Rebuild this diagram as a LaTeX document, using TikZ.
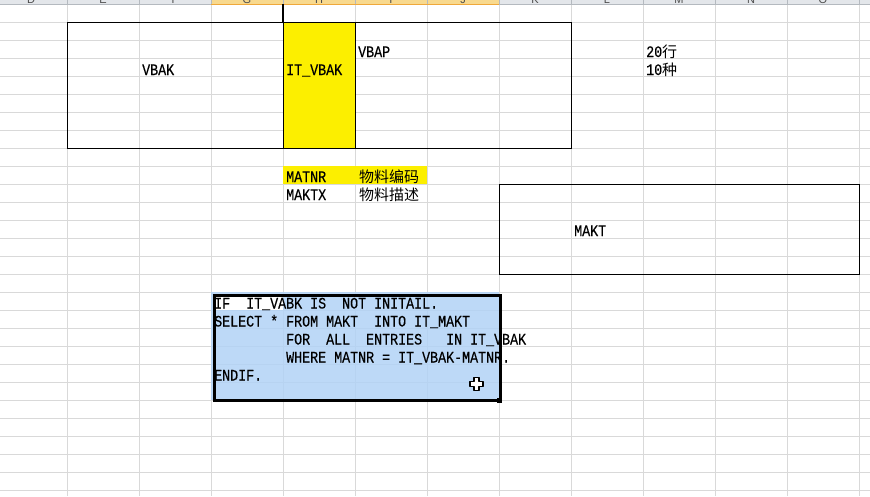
\documentclass[tikz,border=0pt]{standalone}
\usepackage{fontspec}
\usepackage{tikz}
\usetikzlibrary{positioning}
\newfontfamily\sheetmono[FakeStretch=0.833,FakeBold=0.3]{Liberation Mono}
\newfontfamily\sheetcjk{Noto Sans CJK SC}
\newfontfamily\sheethead{Liberation Sans}
\definecolor{gridgray}{HTML}{D9D9D9}
\definecolor{headgray}{HTML}{E3E6EA}
\definecolor{headline}{HTML}{B4B9BF}
\definecolor{headsel}{HTML}{F8D98E}
\definecolor{headselline}{HTML}{EFA83A}
\definecolor{cellyellow}{HTML}{FCEF00}
\definecolor{selblue}{HTML}{B2D3F6}
\tikzset{
  gridline/.style={draw=gridgray,line width=0.8pt},
  tablebox/.style={draw=black,line width=1.3pt,inner sep=0pt,anchor=north west},
  markcell/.style={fill=cellyellow,inner sep=0pt,anchor=north west},
  celltext/.style={font=\fontsize{16}{18}\sheetmono,inner sep=0pt,anchor=base west},
  zhtext/.style={font=\fontsize{15}{18}\sheetcjk,inner sep=0pt,anchor=base west},
  headtext/.style={font=\fontsize{11}{12}\sheethead,text=black!70,inner sep=0pt,anchor=base},
  selframe/.style={draw=black,line width=3pt,inner sep=0pt,anchor=north west}
}

\begin{document}
\begin{tikzpicture}[x=1pt,y=-1pt]
  \useasboundingbox (0,0) rectangle (870,496);
  \fill[white] (0,0) rectangle (870,496);
  % sheet grid
  \foreach \x in {67,139,...,859} \draw[gridline] (\x,4) -- (\x,496);
  \foreach \y in {22,40,...,490} \draw[gridline] (0,\y) -- (870,\y);
  % column headers
  \fill[headgray] (0,0) rectangle (870,4);
  \fill[headsel] (211,0) rectangle (499,4);
  \begin{scope}
    \clip (0,0) rectangle (870,4);
    \foreach \col [count=\i] in {D,E,F,G,H,I,J,K,L,M,N,O}
      \node[headtext] at ({31+72*(\i-1)},3) {\col};
  \end{scope}
  \foreach \x in {67,139,...,859} \draw[headline,line width=0.8pt] (\x,0) -- (\x,4);
  \draw[headline,line width=1pt] (0,4) -- (211,4);
  \draw[headselline,line width=1pt] (211,4) -- (499,4);
  \draw[headline,line width=1pt] (499,4) -- (870,4);
  \draw[black,line width=1.3pt] (283,4) -- (283,22);

  % VBAK / VBAP block
  \node[tablebox,minimum width=504,minimum height=126] (vbakbox) at (67,22) {};
  \node[markcell,tablebox,minimum width=72,minimum height=126] (itvbakbox) at (283,22) {};
  \node[celltext] (vbak) at (142,75) {VBAK};
  \node[celltext] (itvbak) at (286,75) {IT\_VBAK};
  \node[celltext] (vbap) at (358,57) {VBAP};
  \node[celltext] (rows) at (646,57) {20{\fontsize{15}{18}\sheetcjk 行}};
  \node[celltext] (kinds) at (646,75) {10{\fontsize{15}{18}\sheetcjk 种}};

  % fields
  \node[markcell,minimum width=144,minimum height=18] (matnrcell) at (283,166) {};
  \node[celltext] (matnr) at (286,182) {MATNR};
  \node[zhtext] (matnrzh) at (359,182) {物料编码};
  \node[celltext] (maktx) at (286,200) {MAKTX};
  \node[zhtext] (maktxzh) at (359,200) {物料描述};

  % MAKT block
  \node[tablebox,minimum width=360,minimum height=90] (maktbox) at (499,184) {};
  \node[celltext] (makt) at (574,236) {MAKT};

  % selected code cells
  \fill[selblue,fill opacity=0.85] (211,292) rectangle (499,400);
  \fill[white] (213,294) rectangle (283,310);
  \node[celltext] (codeif) at (214,308.5) {IF~~IT\_VABK IS~~NOT INITAIL.};
  \node[celltext] (codeselect) at (214,326.5) {SELECT * FROM MAKT~~INTO IT\_MAKT};
  \node[celltext] (codefor) at (286,344.5) {FOR~~ALL~~ENTRIES~~~IN IT\_VBAK};
  \node[celltext] (codewhere) at (286,362.5) {WHERE MATNR = IT\_VBAK-MATNR.};
  \node[celltext] (codeend) at (214,380.5) {ENDIF.};
  \node[selframe,minimum width=286,minimum height=105] (codebox) at (212.5,293.5) {};
  \fill[black] (497,398) rectangle (502,403);
  % mouse cursor
  \draw[fill=white,line width=1.4pt,line join=round] (474,377.5) -- (479,377.5) -- (479,381.5) -- (483,381.5)
    -- (483,386.5) -- (479,386.5) -- (479,390.5) -- (474,390.5) -- (474,386.5) -- (470,386.5)
    -- (470,381.5) -- (474,381.5) -- cycle;
\end{tikzpicture}
\end{document}
